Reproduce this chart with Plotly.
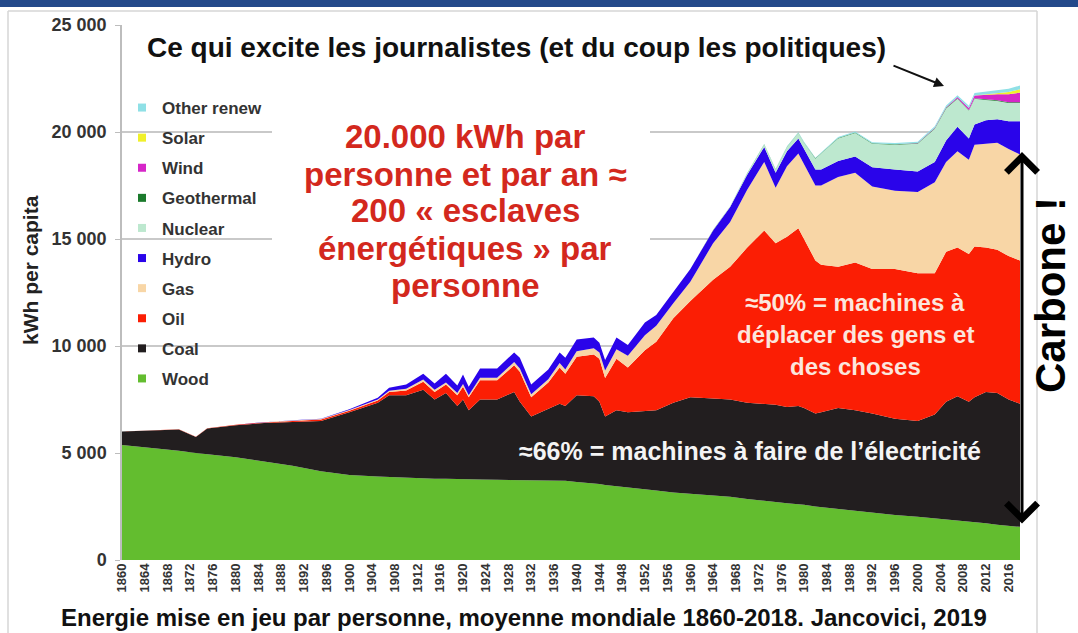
import plotly.graph_objects as go

years = [1860, 1865, 1870, 1873, 1875, 1880, 1885, 1890, 1895, 1900,
         1905, 1907, 1910, 1913, 1915, 1917, 1919, 1920, 1921, 1923,
         1926, 1929, 1930, 1932, 1935, 1937, 1938, 1940, 1943, 1944,
         1945, 1947, 1949, 1952, 1954, 1957, 1960, 1964, 1967, 1970,
         1973, 1975, 1977, 1979, 1980, 1982, 1983, 1986, 1989, 1992,
         1996, 2000, 2003, 2005, 2007, 2009, 2010, 2012, 2014, 2016,
         2018]

wood = [5370, 5250, 5100, 5000, 4950, 4800, 4600, 4400, 4150, 3970,
        3900, 3880, 3850, 3800, 3800, 3800, 3780, 3780, 3770, 3760,
        3750, 3740, 3730, 3720, 3710, 3700, 3700, 3650, 3600, 3550,
        3500, 3450, 3400, 3300, 3250, 3150, 3100, 3000, 2950, 2850,
        2750, 2700, 2650, 2600, 2580, 2500, 2470, 2370, 2280, 2200,
        2100, 2020, 1950, 1900, 1850, 1800, 1780, 1720, 1650, 1600,
        1550]

coal = [630, 800, 1000, 750, 1200, 1500, 1800, 2050, 2350, 2930,
        3450, 3820, 3850, 4150, 3700, 4000, 3420, 3720, 3230, 3740,
        3750, 4110, 3670, 2980, 3340, 3600, 3500, 4050, 4050, 3850,
        3200, 3550, 3500, 3650, 3750, 4200, 4500, 4550, 4550, 4500,
        4550, 4550, 4500, 4600, 4520, 4350, 4430, 4730, 4720, 4650,
        4500, 4480, 4850, 5500, 5800, 5600, 5820, 6130, 6150, 5900,
        5750]

oil = [0, 0, 10, 10, 10, 20, 30, 50, 70, 80,
       100, 150, 220, 380, 350, 400, 500, 600, 600, 900,
       900, 1250, 1400, 900, 1250, 1700, 1500, 1800, 1950, 2000,
       1800, 2400, 2100, 2850, 3200, 3950, 4500, 5550, 6200, 7250,
       8100, 7550, 7950, 8300, 7900, 7150, 6900, 6600, 6900, 6750,
       7000, 6900, 6600, 7000, 6950, 6900, 7050, 6750, 6700, 6700,
       6700]

gas = [0, 0, 0, 0, 0, 0, 10, 20, 20, 30,
       50, 60, 80, 100, 100, 100, 100, 120, 100, 120,
       120, 150, 150, 150, 150, 200, 200, 250, 300, 300,
       350, 450, 550, 700, 750, 700, 900, 1700, 2100, 2700,
       3200, 2600, 3300, 3500, 3500, 3500, 3700, 4200, 4200, 3850,
       3650, 3800, 4250, 4200, 4500, 4400, 4750, 4850, 5000, 5000,
       4950]

hydro = [0, 0, 0, 0, 0, 0, 0, 10, 10, 30,
         80, 140, 200, 270, 300, 400, 350, 450, 400, 430,
         430, 450, 500, 450, 450, 500, 550, 550, 500, 450,
         500, 550, 500, 600, 500, 500, 600, 600, 700, 700,
         700, 700, 700, 700, 700, 750, 750, 750, 750, 900,
         1000, 950, 950, 1000, 1150, 1000, 950, 1100, 1100, 1300,
         1550]

nuclear = [0, 0, 0, 0, 0, 0, 0, 0, 0, 0,
           0, 0, 0, 0, 0, 0, 0, 0, 0, 0,
           0, 0, 0, 0, 0, 0, 0, 0, 0, 0,
           0, 0, 0, 0, 0, 0, 0, 10, 30, 60,
           120, 150, 200, 250, 300, 500, 750, 1050, 1100, 1100,
           1150, 1300, 1550, 1500, 1300, 1300, 1200, 950, 850, 850,
           850]

geothermal = [0, 0, 0, 0, 0, 0, 0, 0, 0, 0,
              0, 0, 0, 0, 0, 0, 0, 0, 0, 0,
              0, 0, 0, 0, 0, 0, 0, 0, 0, 0,
              0, 0, 0, 0, 0, 0, 0, 5, 5, 10,
              10, 10, 15, 15, 15, 20, 20, 25, 25, 25,
              30, 30, 30, 30, 30, 30, 30, 35, 35, 40,
              40]

wind = [0, 0, 0, 0, 0, 0, 0, 0, 0, 0,
        0, 0, 0, 0, 0, 0, 0, 0, 0, 0,
        0, 0, 0, 0, 0, 0, 0, 0, 0, 0,
        0, 0, 0, 0, 0, 0, 0, 0, 0, 0,
        0, 0, 0, 0, 0, 0, 0, 0, 0, 0,
        0, 10, 15, 25, 50, 90, 120, 200, 280, 370,
        450]

solar = [0, 0, 0, 0, 0, 0, 0, 0, 0, 0,
         0, 0, 0, 0, 0, 0, 0, 0, 0, 0,
         0, 0, 0, 0, 0, 0, 0, 0, 0, 0,
         0, 0, 0, 0, 0, 0, 0, 0, 0, 0,
         0, 0, 0, 0, 0, 0, 0, 0, 0, 0,
         0, 0, 0, 0, 0, 5, 10, 40, 70, 110,
         160]

other_renew = [0, 0, 0, 0, 0, 0, 0, 0, 0, 0,
               0, 0, 0, 0, 0, 0, 0, 0, 0, 0,
               0, 0, 0, 0, 0, 0, 0, 0, 0, 0,
               0, 0, 0, 0, 0, 0, 0, 0, 0, 10,
               15, 15, 20, 20, 25, 30, 30, 40, 50, 50,
               60, 60, 70, 80, 90, 100, 110, 120, 140, 150,
               170]

series_names = ["Wood", "Coal", "Oil", "Gas", "Hydro", "Nuclear",
                "Geothermal", "Wind", "Solar", "Other renew"]
series_values = [wood, coal, oil, gas, hydro, nuclear,
                 geothermal, wind, solar, other_renew]
series_colors = ["#63bd2f", "#221e1f", "#fb1e04", "#f8d6a6", "#2a04ea",
                 "#bde8cf", "#1b7a2c", "#d626c8", "#f0f02a", "#8fe0e6"]

x_tick_years = list(range(1860, 2017, 4))
x_tick_labels = [str(y) for y in x_tick_years]
y_tick_vals = [0, 5000, 10000, 15000, 20000, 25000]
y_tick_labels = ["0", "5 000", "10 000", "15 000", "20 000", "25 000"]

FONT = "Arial, Liberation Sans, sans-serif"

# plot area in pixels
L, R, T, B = 122, 1020, 25, 560
W, H = 1078, 633


def px(x):
    return (x - L) / (R - L)


def py(y):
    return (B - y) / (B - T)


fig = go.Figure()

for name, vals, col in zip(series_names, series_values, series_colors):
    fig.add_trace(go.Scatter(
        x=years, y=vals, name=name, mode="lines",
        stackgroup="one", line=dict(width=0, color=col),
        fillcolor=col, showlegend=False, hoverinfo="x+y+name"))

# legend entries (small square swatches), top-down order as in reference
for name, col in reversed(list(zip(series_names, series_colors))):
    fig.add_trace(go.Scatter(
        x=[None], y=[None], mode="markers", name=name,
        marker=dict(symbol="square", size=8, color=col),
        legendgroup=name, showlegend=True))

annotations = []

# red headline
red_lines = ["20.000 kWh par", "personne et par an ≈", "200 « esclaves",
             "énergétiques » par", "personne"]
red_y = [137, 174, 211, 248, 285]
for t, yy in zip(red_lines, red_y):
    annotations.append(dict(
        text=t, xref="paper", yref="paper", x=px(465), y=py(yy),
        showarrow=False, xanchor="center", yanchor="middle",
        font=dict(family=FONT, size=33, color="#d3281d", weight="bold")))

# 50% annotation
for t, yy in zip(["≈50% = machines à", "déplacer des gens et", "des choses"],
                 [302, 334, 366]):
    annotations.append(dict(
        text=t, xref="paper", yref="paper", x=px(855), y=py(yy),
        showarrow=False, xanchor="center", yanchor="middle",
        font=dict(family=FONT, size=24, color="#fbe6dd", weight="bold")))

# 66% annotation
annotations.append(dict(
    text="≈66% = machines à faire de l’électricité",
    xref="paper", yref="paper", x=px(750), y=py(451),
    showarrow=False, xanchor="center", yanchor="middle",
    font=dict(family=FONT, size=25, color="#f4f4f4", weight="bold")))

# top caption
annotations.append(dict(
    text="Ce qui excite les journalistes (et du coup les politiques)",
    xref="paper", yref="paper", x=px(516), y=py(48),
    showarrow=False, xanchor="center", yanchor="middle",
    font=dict(family=FONT, size=28, color="#111111", weight="bold")))

# arrow to the renewables
annotations.append(dict(
    text="", xref="paper", yref="paper", x=px(944), y=py(86),
    ax=-52, ay=-21, showarrow=True, arrowhead=2, arrowsize=1,
    arrowwidth=2, arrowcolor="#111111"))

# Carbone double arrow
annotations.append(dict(
    text="", xref="paper", yref="paper", x=px(1022), y=py(152),
    ax=0, ay=373, showarrow=True, arrowhead=4, arrowsize=2,
    arrowside="end+start", arrowwidth=3, arrowcolor="#000000"))

annotations.append(dict(
    text="Carbone !", xref="paper", yref="paper", x=px(1050), y=py(295),
    textangle=-90, showarrow=False, xanchor="center", yanchor="middle",
    font=dict(family=FONT, size=42, color="#000000", weight="bold")))

# y axis title
annotations.append(dict(
    text="kWh per capita", xref="paper", yref="paper", x=px(30), y=py(270),
    textangle=-90, showarrow=False, xanchor="center", yanchor="middle",
    font=dict(family=FONT, size=21, color="#222222", weight="bold")))

# bottom caption
annotations.append(dict(
    text="Energie mise en jeu par personne, moyenne mondiale 1860-2018. Jancovici, 2019",
    xref="paper", yref="paper", x=px(524), y=py(617),
    showarrow=False, xanchor="center", yanchor="middle",
    font=dict(family=FONT, size=24, color="#111111", weight="bold")))

shapes = [
    # white panel behind the headline (hides the gridlines)
    dict(type="rect", xref="paper", yref="paper",
         x0=px(272), x1=px(650), y0=py(305), y1=py(112),
         fillcolor="white", line=dict(width=0), layer="above"),
    # slide header bar
    dict(type="rect", xref="paper", yref="paper",
         x0=px(0), x1=px(W), y0=py(7), y1=py(0),
         fillcolor="#23498a", line=dict(width=0), layer="above"),
    # frame lines
    dict(type="line", xref="paper", yref="paper",
         x0=px(8), x1=px(8), y0=py(11), y1=py(H),
         line=dict(color="#d6d6d6", width=1.5)),
    dict(type="line", xref="paper", yref="paper",
         x0=px(8), x1=px(1037), y0=py(11), y1=py(11),
         line=dict(color="#d6d6d6", width=1.5)),
    dict(type="line", xref="paper", yref="paper",
         x0=px(1037), x1=px(1037), y0=py(11), y1=py(H),
         line=dict(color="#d6d6d6", width=1.5)),
]

fig.update_layout(
    width=W, height=H,
    margin=dict(l=L, r=W - R, t=T, b=H - B, pad=0),
    paper_bgcolor="white", plot_bgcolor="white",
    font=dict(family=FONT, color="#333333"),
    showlegend=True,
    legend=dict(x=px(122), y=py(90), xanchor="left", yanchor="top",
                bgcolor="rgba(0,0,0,0)", traceorder="grouped",
                tracegroupgap=5, itemwidth=30,
                font=dict(family=FONT, size=17, color="#333333", weight="bold")),
    xaxis=dict(range=[1860, 2018], tickmode="array", tickvals=x_tick_years,
               ticktext=x_tick_labels, tickangle=-90, showgrid=False,
               zeroline=False, showline=False, ticks="",
               tickfont=dict(family=FONT, size=13, color="#333333", weight="bold")),
    yaxis=dict(range=[0, 25000], tickmode="array", tickvals=y_tick_vals,
               ticktext=y_tick_labels, showgrid=True, gridcolor="#c9c9c9",
               gridwidth=1.5, zeroline=False, showline=True,
               linecolor="#bdbdbd", linewidth=1.5, ticks="outside",
               ticklen=5, tickcolor="#bdbdbd", ticklabelstandoff=5,
               tickfont=dict(family=FONT, size=18, color="#333333", weight="bold")),
    annotations=annotations,
    shapes=shapes,
)

fig.write_html("out.html", config={"displayModeBar": False},
               post_script="document.body.style.margin='0px';"
                           "document.body.style.overflow='hidden';")
